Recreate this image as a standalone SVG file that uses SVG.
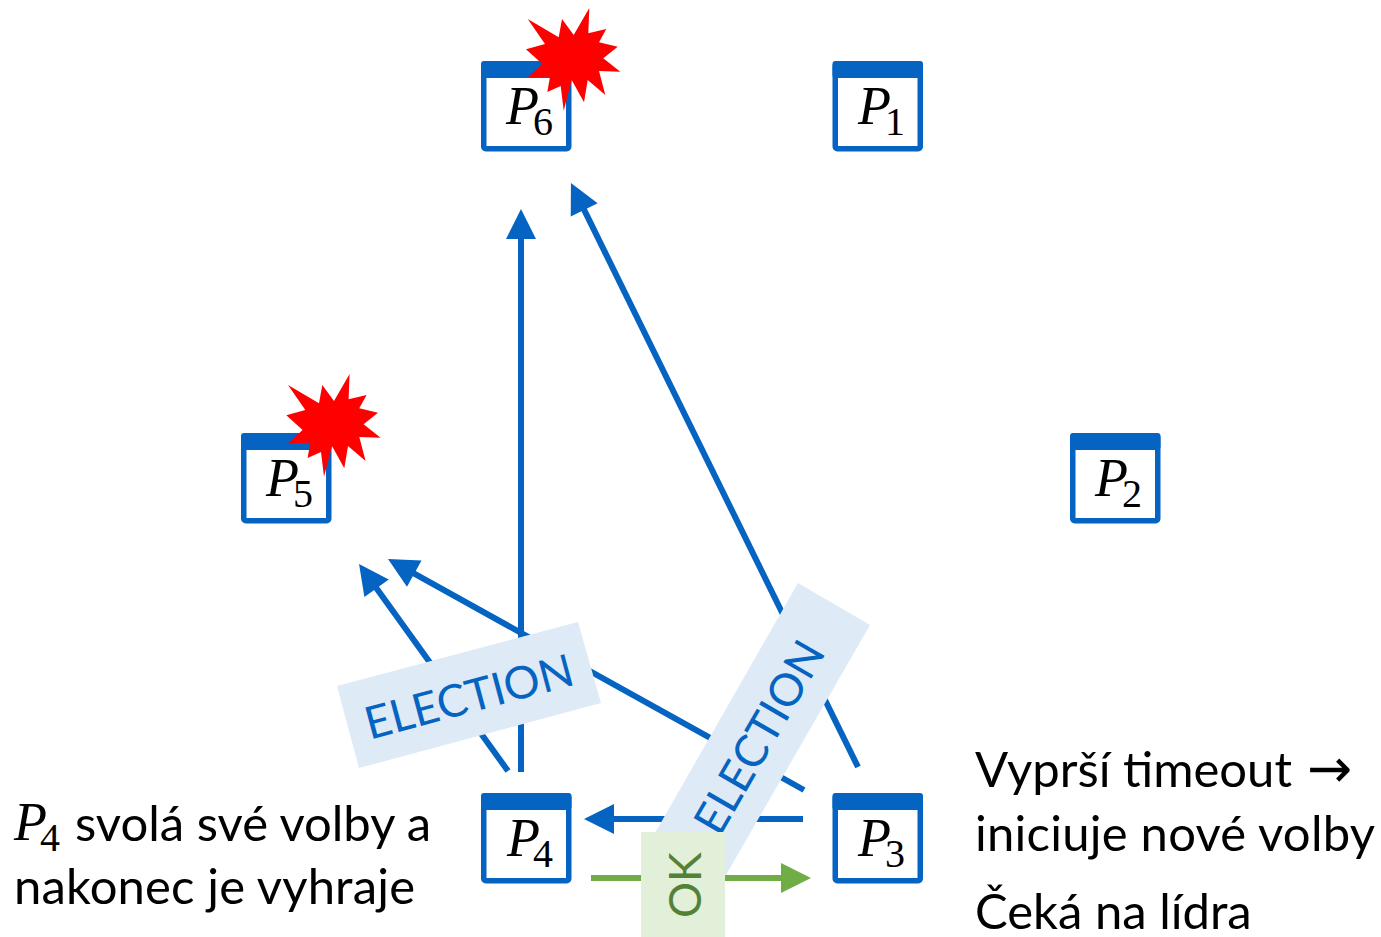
<svg xmlns="http://www.w3.org/2000/svg" xmlns:xlink="http://www.w3.org/1999/xlink" width="1381" height="937" viewBox="0 0 1381 937">
<style>
.box{fill:#fff;stroke:#0563c1;stroke-width:5.5}
.bar{fill:#0563c1}
.p{font-family:"Liberation Serif",serif;font-style:italic;font-size:54px;fill:#000}
.s{font-style:normal;font-size:40px}
.t{font-family:Lato,"Liberation Sans",sans-serif;font-size:49px;fill:#000}
.b{stroke:#0563c1;stroke-width:6;fill:none}
.g{stroke:#70ad47;stroke-width:6;fill:none}
.lb{fill:#deeaf6}
.lt{font-family:Lato,"Liberation Sans",sans-serif;font-size:45px;fill:#0563c1;text-anchor:middle}
.star{fill:#f00}
</style>
<defs>
<marker id="ab" markerUnits="userSpaceOnUse" markerWidth="32" markerHeight="32" refX="2" refY="15" orient="auto" overflow="visible"><path d="M0 0L30 15L0 30Z" fill="#0563c1"/></marker>
<marker id="ag" markerUnits="userSpaceOnUse" markerWidth="32" markerHeight="32" refX="2" refY="15" orient="auto" overflow="visible"><path d="M0 0L30 15L0 30Z" fill="#70ad47"/></marker>
<polygon id="st" class="star" points="527.7,19 558.7,37.3 562,19 573.7,35 589.3,8 588.3,33.3 606.3,29 599,42.3 617.7,46.7 603.3,58.3 620.3,71.7 599,71 605.3,95 587.7,80 584,102.3 571.7,80 563.7,110.7 560.7,86 547.3,92 550,76.7 527.7,77.3 542.3,64 526,49.3 545,44"/>
<g id="win"><rect class="box" x="2.75" y="2.75" width="85" height="85" rx="2"/><rect class="bar" x="0" y="0" width="90.5" height="17" rx="3"/></g>
</defs>
<g id="connectors">
<path class="b" d="M521 772V237" marker-end="url(#ab)"/>
<path class="b" d="M858 767L583.3 208.1" marker-end="url(#ab)"/>
<path class="b" d="M508 771L375.4 586.7" marker-end="url(#ab)"/>
<path class="b" d="M804 790L412.5 572.6" marker-end="url(#ab)"/>
<path class="b" d="M803 819H612" marker-end="url(#ab)"/>
<path class="g" d="M591 878H783" marker-end="url(#ag)"/>
</g>
<g id="P6"><use xlink:href="#win" x="481" y="61"/><text class="p" x="506" y="124">P<tspan class="s" dx="-6" dy="11">6</tspan></text><use xlink:href="#st"/></g>
<g id="P1"><use xlink:href="#win" x="832.5" y="61"/><text class="p" x="858" y="124">P<tspan class="s" dx="-6" dy="11">1</tspan></text></g>
<g id="P5"><use xlink:href="#win" x="241" y="433"/><text class="p" x="266" y="496">P<tspan class="s" dx="-6" dy="11">5</tspan></text><use xlink:href="#st" x="-239.7" y="366"/></g>
<g id="P2"><use xlink:href="#win" x="1070" y="433"/><text class="p" x="1095" y="496">P<tspan class="s" dx="-6" dy="11">2</tspan></text></g>
<g id="P4"><use xlink:href="#win" x="481" y="793"/><text class="p" x="507" y="856">P<tspan class="s" dx="-7" dy="11">4</tspan></text></g>
<g id="P3"><use xlink:href="#win" x="832.5" y="793"/><text class="p" x="858" y="856">P<tspan class="s" dx="-6" dy="11">3</tspan></text></g>
<g id="label-election-1"><polygon class="lb" points="337,686 578,622 601,703 359,768"/><text class="lt" transform="translate(473,712) rotate(-15)">ELECTION</text></g>
<g id="label-election-2"><polygon class="lb" points="798,583 870,625 726,875 655,833"/><text class="lt" transform="translate(773,745) rotate(-60)">ELECTION</text></g>
<g id="label-ok"><rect x="641" y="832" width="84" height="105" fill="#e2efd9"/><text transform="translate(701,885) rotate(-90)" font-family="Lato,'Liberation Sans',sans-serif" font-size="45" fill="#538135" text-anchor="middle">OK</text></g>
<g id="notes">
<text class="p" x="14" y="840">P<tspan class="s" dx="-7" dy="11">4</tspan></text>
<text class="t" x="75" y="841">svolá své volby a</text>
<text class="t" x="14" y="904" textLength="401">nakonec je vyhraje</text>
<text class="t" x="975" y="787">Vyprší timeout</text>
<text x="1307" y="787" font-family="'DejaVu Sans',sans-serif" font-size="54" fill="#000">→</text>
<text class="t" x="975" y="851" textLength="400">iniciuje nové volby</text>
<text class="t" x="975" y="929">Čeká na lídra</text>
</g>
</svg>
